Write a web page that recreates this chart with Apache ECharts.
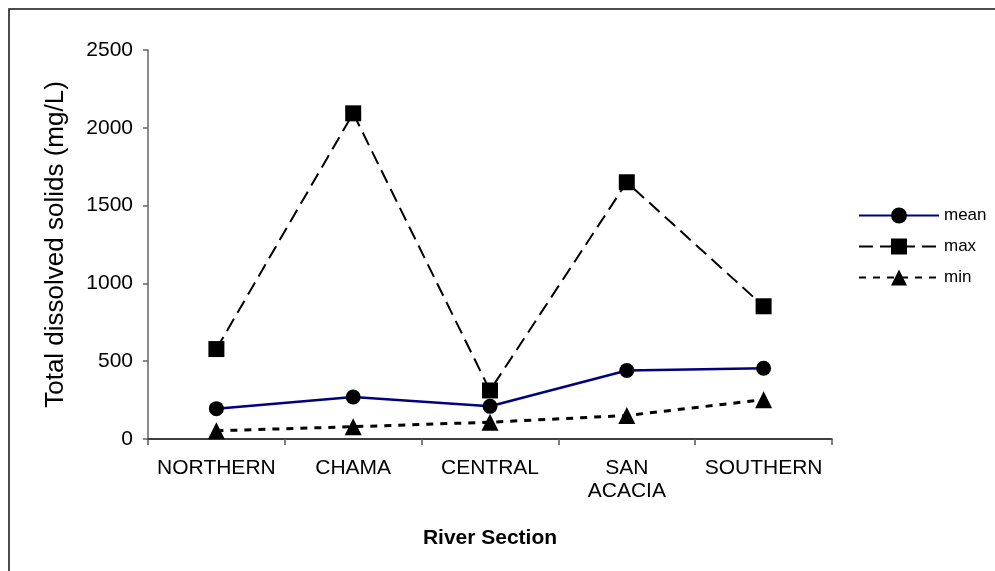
<!DOCTYPE html>
<html>
<head>
<meta charset="utf-8">
<script src="https://cdn.jsdelivr.net/npm/echarts@6/dist/echarts.min.js"></script>
<style>
  html, body { margin: 0; padding: 0; background: #fff; }
  #chart { width: 995px; height: 571px; }
</style>
</head>
<body>
<div id="chart"></div>
<script>
// River sections along the x axis
const sections = ['NORTHERN', 'CHAMA', 'CENTRAL', 'SAN\nACACIA', 'SOUTHERN'];

// Total dissolved solids (mg/L) per river section
const meanTDS = [195, 270, 210, 440, 455];
const maxTDS = [578, 2093, 312, 1650, 853];
const minTDS = [53, 79, 108, 151, 253];

// Value axis ticks
const yMin = 0;
const yMax = 2500;
const yStep = 500;

const FONT = '"Liberation Sans", Arial, sans-serif';

const chart = echarts.init(document.getElementById('chart'), null, { renderer: 'canvas' });

chart.setOption({
  animation: false,
  backgroundColor: '#ffffff',
  graphic: [{
    type: 'rect',
    shape: { x: 9, y: 9, width: 1000, height: 600 },
    style: { fill: 'none', stroke: '#111', lineWidth: 1.5 },
    silent: true,
    z: 0
  }],
  grid: { left: 148, right: 163, top: 50, bottom: 132, containLabel: false },
  legend: {
    orient: 'vertical',
    left: 853,
    top: 202,
    itemWidth: 80,
    itemHeight: 20,
    itemGap: 14,
    textStyle: { fontFamily: FONT, fontSize: 17, color: '#000' },
    data: ['mean', 'max', 'min']
  },
  xAxis: {
    type: 'category',
    data: sections,
    boundaryGap: true,
    name: 'River Section',
    nameLocation: 'middle',
    nameGap: 89,
    nameTextStyle: { fontFamily: FONT, fontSize: 21, fontWeight: 'bold', color: '#000' },
    axisLine: { lineStyle: { color: '#000', width: 1.5 } },
    axisTick: { show: true, length: 6, inside: false, lineStyle: { color: '#555', width: 1.5 } },
    axisLabel: { fontFamily: FONT, fontSize: 21, color: '#000', margin: 18, lineHeight: 23, interval: 0 },
    splitLine: { show: false }
  },
  yAxis: {
    type: 'value',
    min: yMin,
    max: yMax,
    interval: yStep,
    name: 'Total dissolved solids (mg/L)',
    nameLocation: 'middle',
    nameGap: 79,
    nameRotate: 90,
    nameTextStyle: { fontFamily: FONT, fontSize: 26, color: '#000' },
    axisLine: { show: true, lineStyle: { color: '#666', width: 1.5 } },
    axisTick: { show: true, length: 5, inside: false, lineStyle: { color: '#666', width: 1.5 } },
    axisLabel: { fontFamily: FONT, fontSize: 21, color: '#000', margin: 15, formatter: (v) => String(v) },
    splitLine: { show: false }
  },
  series: [
    {
      name: 'mean',
      type: 'line',
      data: meanTDS,
      symbol: 'circle',
      symbolSize: 15,
      itemStyle: { color: '#000' },
      lineStyle: { color: '#000080', width: 2.5, type: 'solid' },
      z: 3
    },
    {
      name: 'max',
      type: 'line',
      data: maxTDS,
      symbol: 'rect',
      symbolSize: 16,
      itemStyle: { color: '#000' },
      lineStyle: { color: '#000', width: 2, type: [14, 7] },
      z: 2
    },
    {
      name: 'min',
      type: 'line',
      data: minTDS,
      symbol: 'triangle',
      symbolSize: 17,
      itemStyle: { color: '#000' },
      lineStyle: { color: '#000', width: 3, type: [7, 7] },
      z: 2
    }
  ]
});
</script>
</body>
</html>
